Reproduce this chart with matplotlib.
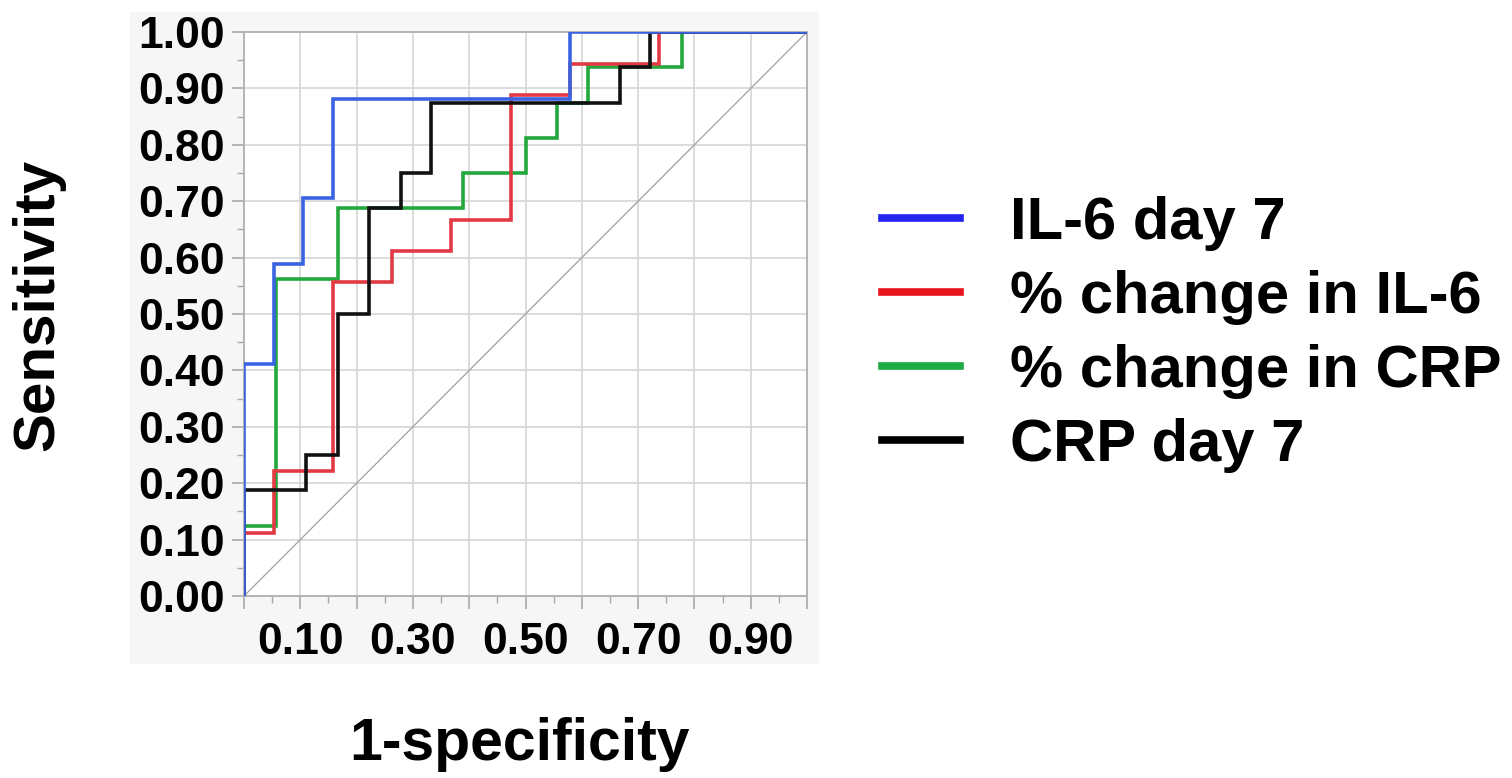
import matplotlib
matplotlib.use("Agg")
import matplotlib.pyplot as plt
from matplotlib.patches import Rectangle
from matplotlib.ticker import MultipleLocator

plt.rcParams['font.family'] = ['Liberation Sans', 'DejaVu Sans']
plt.rcParams['font.weight'] = 'bold'

# ROC corner points (1-specificity, sensitivity)
il6_fpr = [0.0, 0.0, 0.053, 0.105, 0.158, 0.579, 1.0]
il6_tpr = [0.0, 0.412, 0.588, 0.706, 0.882, 1.0, 1.0]

pil6_fpr = [0.0, 0.0, 0.053, 0.158, 0.263, 0.368, 0.474, 0.579, 0.737, 1.0]
pil6_tpr = [0.0, 0.111, 0.222, 0.556, 0.611, 0.667, 0.889, 0.944, 1.0, 1.0]

pcrp_fpr = [0.0, 0.0, 0.056, 0.167, 0.389, 0.5, 0.556, 0.611, 0.778, 1.0]
pcrp_tpr = [0.0, 0.125, 0.5625, 0.6875, 0.75, 0.8125, 0.875, 0.9375, 1.0, 1.0]

crp_fpr = [0.0, 0.0, 0.111, 0.167, 0.222, 0.278, 0.333, 0.667, 0.722, 1.0]
crp_tpr = [0.0, 0.1875, 0.25, 0.5, 0.6875, 0.75, 0.875, 0.9375, 1.0, 1.0]

labels = ['IL-6 day 7', '% change in IL-6', '% change in CRP', 'CRP day 7']
colors = ['#3a63e2', '#e23a44', '#22a83c', '#111111']
xtick_labels = ['0.10', '0.30', '0.50', '0.70', '0.90']

W, H = 1512, 778
fig = plt.figure(figsize=(W / 100, H / 100), dpi=100)

# light grey panel behind the plot + tick labels
fig.add_artist(Rectangle((130 / W, 1 - 663 / H), (818 - 130) / W, (663 - 12) / H,
                         transform=fig.transFigure, color='#f6f6f6', zorder=-5))

ax = fig.add_axes([244 / W, 1 - 596 / H, (807 - 244) / W, (596 - 32) / H])
ax.set_facecolor('white')

ax.plot([0, 1], [0, 1], color='#a0a0a0', lw=0.9, zorder=2)

series = [(il6_fpr, il6_tpr), (pil6_fpr, pil6_tpr), (pcrp_fpr, pcrp_tpr), (crp_fpr, crp_tpr)]
zs = [6, 4, 3, 5]
lines = []
for (fx, ty), lab, c, z in zip(series, labels, colors, zs):
    ln, = ax.plot(fx, ty, drawstyle='steps-post', color=c, lw=2.6, label=lab, zorder=z,
                  solid_joinstyle='miter')
    lines.append(ln)

ax.set_xlim(0, 1)
ax.set_ylim(0, 1)

ax.xaxis.set_major_locator(MultipleLocator(0.1))
ax.yaxis.set_major_locator(MultipleLocator(0.1))
ax.xaxis.set_minor_locator(MultipleLocator(0.05))
ax.yaxis.set_minor_locator(MultipleLocator(0.05))
ax.set_yticklabels([f"{v:.2f}" for v in ax.get_yticks()])
ax.set_xticklabels([f"{v:.2f}" if f"{v:.2f}" in xtick_labels else '' for v in ax.get_xticks()])

ax.grid(True, which='major', color='#d6d6d6', lw=1.2, zorder=1)
ax.set_axisbelow(True)
for s in ax.spines.values():
    s.set_color('#b4b4b4')
    s.set_linewidth(1.4)

ax.tick_params(which='major', length=9, width=1.2, color='#a8a8a8', labelsize=32, pad=5)
ax.tick_params(which='minor', length=5, width=1.0, color='#a8a8a8')
ax.tick_params(axis='x', which='major', pad=10)

fig.text(38 / W, 1 - 305 / H, 'Sensitivity', rotation=90, fontsize=42, fontweight='bold',
         ha='center', va='center')
fig.text(520 / W, 1 - 745 / H, '1-specificity', fontsize=42.5, fontweight='bold',
         ha='center', va='center')

leg = fig.legend(handles=lines, labels=labels, loc='upper left',
                 bbox_to_anchor=(882 / W, 1 - 196 / H), frameon=False,
                 fontsize=43, handlelength=1.3, handletextpad=0.85,
                 labelspacing=0.32, borderpad=0, borderaxespad=0)
for lh, c in zip(leg.get_lines(), ['#2424ee', '#e8141e', '#1eaa46', '#000000']):
    lh.set_linewidth(5.5)
    lh.set_color(c)

fig.savefig('out.png', dpi=100)
